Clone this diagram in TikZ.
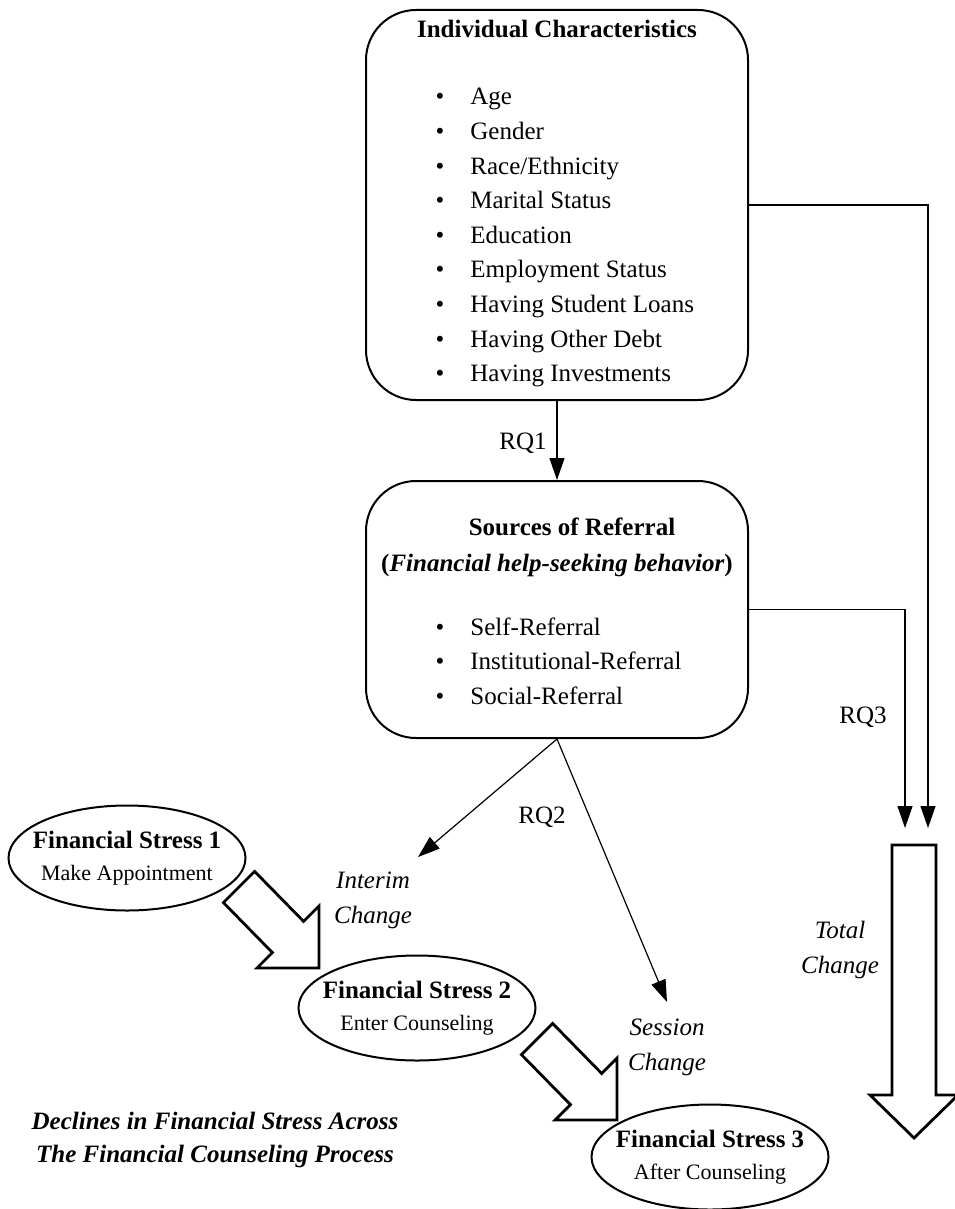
\documentclass[tikz,border=0pt]{standalone}
\usepackage{fontspec}
\setmainfont{Liberation Serif}
\usepackage{tikz}
\usetikzlibrary{arrows.meta,shapes.geometric,positioning}

\begin{document}
\begin{tikzpicture}[x=0.5pt,y=-0.5pt,
                    font=\fontsize{12.5}{17.5}\selectfont,
                    round box/.style={rectangle,draw,line width=1pt,rounded corners=25pt,minimum width=191pt,inner sep=0pt},
                    stress node/.style={ellipse,draw,line width=1pt,minimum width=118.5pt,minimum height=52.5pt,inner sep=0pt},
                    stress text/.style={align=center,inner sep=0pt},
                    link/.style={line width=0.6pt,-{Triangle[length=11pt,width=7.5pt]}},
                    block arrow/.style={line width=1.4pt,line join=miter},
                    change label/.style={font=\itshape\fontsize{12.5}{17.5}\selectfont,align=center}]

\useasboundingbox (0,0) rectangle (954,1209);

%DRAWING the two boxes
 \node[round box,minimum height=195pt] (CharBox) at (557,205) {};
 \node[anchor=base,font=\bfseries\fontsize{12.5}{15}\selectfont] (CharTitle) at (557,38) {Individual Characteristics};

 \foreach \feat [count=\i from 0] in {Age,Gender,Race/Ethnicity,Marital Status,Education,Employment Status,Having Student Loans,Having Other Debt,Having Investments}
 {\node[anchor=base] (CharDot\i) at (440,105+34.6*\i) {\textbullet};
  \node[anchor=base west,inner sep=0pt] (CharItem\i) at (470,105+34.6*\i) {\feat};}

 \node[round box,minimum height=128.5pt] (ReferralBox) at (557,609.5) {};
 \node[anchor=base,font=\bfseries\fontsize{12.5}{15}\selectfont] (ReferralTitle) at (572,535) {Sources of Referral};
 \node[anchor=base] (ReferralSub) at (557,571) {\textbf{(}\textbf{\textit{Financial help-seeking behavior}}\textbf{)}};

 \foreach \src [count=\i from 0] in {Self-Referral,Institutional-Referral,Social-Referral}
 {\node[anchor=base] (RefDot\i) at (440,635+34.5*\i) {\textbullet};
  \node[anchor=base west,inner sep=0pt] (RefItem\i) at (470,635+34.5*\i) {\src};}

%Inserting the financial stress ellipses
 \node[stress node] (Stress1) at (127,858) {};
 \node[stress text] (Stress1Text) at (Stress1.center) {\textbf{Financial Stress 1}\\[-1.5pt]{\fontsize{11}{13}\selectfont Make Appointment}};
 \node[stress node] (Stress2) at (417,1008) {};
 \node[stress text] (Stress2Text) at (Stress2.center) {\textbf{Financial Stress 2}\\[-1.5pt]{\fontsize{11}{13}\selectfont Enter Counseling}};
 \node[stress node] (Stress3) at (710,1157) {};
 \node[stress text] (Stress3Text) at (Stress3.center) {\textbf{Financial Stress 3}\\[-1.5pt]{\fontsize{11}{13}\selectfont After Counseling}};

%Arrows for the research questions
 \coordinate (InterimTip) at (418,857);
 \coordinate (SessionTip) at (667,1002);
 \coordinate (TotalInA) at (905,828);
 \coordinate (TotalInB) at (928,828);

 \draw[link] (CharBox.south) -- (ReferralBox.north);
 \draw[link] (CharBox.east) -| (TotalInB);
 \draw[link] (ReferralBox.east) -| (TotalInA);
 \draw[link] (ReferralBox.south) -- (InterimTip);
 \draw[link] (ReferralBox.south) -- (SessionTip);

 \node (RQ1) at (523,443) {RQ1};
 \node (RQ2) at (542,817) {RQ2};
 \node (RQ3) at (863,717) {RQ3};

%Block arrows for the declines
 \draw[block arrow,shift={(319,968)}] (0,0) -- (0,-62) -- (-15.4,-46.6) -- (-64.4,-96.6) -- (-95.6,-65.4) -- (-46.6,-15.4) -- (-62,0) -- cycle;
 \draw[block arrow,shift={(617,1120)}] (0,0) -- (0,-62) -- (-15.4,-46.6) -- (-64.4,-96.6) -- (-95.6,-65.4) -- (-46.6,-15.4) -- (-62,0) -- cycle;
 \draw[block arrow] (892,845) -- (936,845) -- (936,1095) -- (958,1095) -- (914,1138) -- (870,1095) -- (892,1095) -- cycle;

 \node[change label] (InterimChange) at (373,900) {Interim\\Change};
 \node[change label] (SessionChange) at (667,1047) {Session\\Change};
 \node[change label] (TotalChange) at (840,950) {Total\\Change};

 \node[align=center,font=\bfseries\itshape\fontsize{12.5}{16.5}\selectfont] (Declines) at (215,1140) {Declines in Financial Stress Across\\The Financial Counseling Process};

\end{tikzpicture}
\end{document}
